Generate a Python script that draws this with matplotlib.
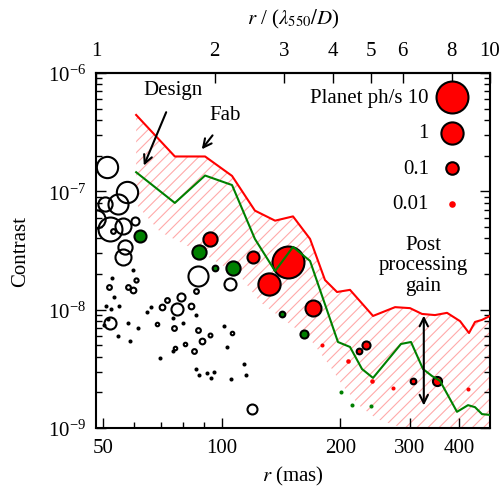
import numpy as np
import matplotlib.pyplot as plt
from matplotlib.ticker import NullFormatter, NullLocator

plt.rcParams['font.family'] = ['Liberation Serif', 'DejaVu Serif']
plt.rcParams['mathtext.fontset'] = 'stix'
plt.rcParams['font.size'] = 15
plt.rcParams['hatch.linewidth'] = 0.8

LAM_D = 48.0  # mas per lambda550/D

# contrast curves: separation (mas), contrast
curve_r = [60.7, 76.1, 90.8, 106.3, 121.5, 136.7, 151.8, 167.7, 183.0, 196.3, 211.8,
           242.3, 275.6, 300.8, 322.6, 348.0, 373.4, 402.9, 424.6, 439.7, 458.1, 480.0]
fab_c = [4.42e-7, 1.97e-7, 1.97e-7, 1.35e-7, 6.87e-8, 5.65e-8, 6.14e-8, 3.96e-8, 1.78e-8,
         1.41e-8, 1.47e-8, 8.85e-9, 1.05e-8, 1.03e-8, 9.2e-9, 9.0e-9, 9.4e-9, 8.0e-9,
         6.35e-9, 7.87e-9, 8.2e-9, 8.85e-9]

design_r = [60.7, 76.1, 90.8, 106.3, 121.5, 136.7, 151.8, 167.7, 197.4, 211.8, 227.2,
            242.3, 285.3, 302.5, 324.5, 342.0, 358.4, 395.8, 422.2, 439.7, 458.1, 480.0]
design_c = [1.45e-7, 7.98e-8, 1.36e-7, 1.13e-7, 3.96e-8, 2.12e-8, 3.39e-8, 2.58e-8,
            5.33e-9, 4.84e-9, 3.15e-9, 2.65e-9, 5.13e-9, 5.33e-9, 3.15e-9, 2.75e-9,
            2.5e-9, 1.37e-9, 1.56e-9, 1.5e-9, 1.31e-9, 1.29e-9]

# lower edge of the hatched band (after post processing)
pp_r = [60.7, 69.8, 78.4, 91.8, 111.4, 125.2, 167.7, 188.4, 203.3, 224.5, 248.0, 283.6, 480.0]
pp_c = [7.8e-8, 4.54e-8, 3.73e-8, 2.84e-8, 1.93e-8, 1.16e-8, 5.65e-9, 3.34e-9,
        2.26e-9, 1.53e-9, 1.19e-9, 1.02e-9, 8.1e-10]

# planets: separation (mas), contrast, planet ph/s
open_r = [51.1, 57.4, 54.7, 50.6, 48.1, 52.1, 56.3, 60.3, 52.9, 56.9, 56.3, 87.1, 105.0,
          51.8, 57.9, 59.6, 60.6, 52.1, 86.1, 78.9, 72.7, 70.6, 77.1, 83.6, 68.5, 75.7,
          87.1, 93.4, 89.2, 106.3, 80.7, 76.2, 85.1, 119.4]
open_c = [1.60e-7, 9.9e-8, 7.83e-8, 7.83e-8, 5.84e-8, 4.81e-8, 5.13e-8, 5.65e-8, 4.65e-8,
          3.39e-8, 2.77e-8, 1.93e-8, 1.65e-8, 1.56e-8, 1.56e-8, 1.47e-8, 1.78e-8, 7.72e-9,
          1.44e-8, 1.28e-8, 1.21e-8, 1.05e-8, 1.01e-8, 1.07e-8, 7.57e-9, 7.0e-9, 6.74e-9,
          6.11e-9, 5.44e-9, 6.35e-9, 5.13e-9, 4.75e-9, 4.48e-9, 1.45e-9]
open_ph = [0.8, 0.8, 0.6, 0.15, 0.4, 1.5, 0.23, 0.035, 0.016, 0.15, 0.23, 0.6, 0.09,
           0.016, 0.016, 0.02, 0.014, 0.09, 0.016, 0.035, 0.016, 0.02, 0.09, 0.02, 0.012,
           0.016, 0.016, 0.013, 0.02, 0.012, 0.012, 0.012, 0.016, 0.055]

dot_r = [59.6, 52.7, 53.3, 50.9, 52.4, 54.9, 51.5, 50.3, 54.6, 58.6, 57.9, 61.3, 66.2,
         64.7, 86.1, 75.3, 79.8, 101.4, 103.2, 75.3, 69.8, 86.1, 87.6, 91.8, 94.0, 95.6,
         105.6, 114.0, 115.3]
dot_c = [2.17e-8, 1.85e-8, 1.28e-8, 1.07e-8, 1.01e-8, 1.07e-8, 8.34e-9, 7.42e-9, 5.99e-9,
         5.44e-9, 7.72e-9, 7.0e-9, 1.05e-8, 9.56e-9, 9.02e-9, 8.51e-9, 7.72e-9, 7.28e-9,
         4.84e-9, 4.48e-9, 3.91e-9, 3.15e-9, 2.81e-9, 2.92e-9, 2.65e-9, 2.97e-9, 2.59e-9,
         3.47e-9, 2.81e-9]
dot_ph = [0.003] * len(dot_r)

green_r = [62.1, 87.6, 96.2, 106.9, 142.3, 161.9, 200.9, 214.2, 239.4]
green_c = [4.2e-8, 3.07e-8, 2.25e-8, 2.25e-8, 9.2e-9, 6.23e-9, 2.02e-9, 1.56e-9, 1.53e-9]
green_ph = [0.09, 0.15, 0.02, 0.15, 0.02, 0.035, 0.003, 0.003, 0.003]

red_r = [93.4, 120.1, 131.9, 147.4, 170.6, 232.6, 223.2, 306.0, 352.2,
         179.8, 209.4, 240.8, 272.3, 422.2]
red_c = [3.96e-8, 2.79e-8, 1.65e-8, 2.53e-8, 1.03e-8, 5.03e-9, 4.48e-9, 2.5e-9, 2.5e-9,
         5.03e-9, 3.68e-9, 2.5e-9, 2.18e-9, 2.14e-9]
red_ph = [0.15, 0.09, 1.0, 10.0, 0.23, 0.035, 0.02, 0.02, 0.045,
          0.003, 0.004, 0.004, 0.003, 0.003]

legend_ph = [10, 1, 0.1, 0.01]
legend_labels = ['Planet ph/s 10', '1', '0.1', '0.01']

bottom_ticks = [50, 100, 200, 300, 400]
top_ticks = [1, 2, 3, 4, 5, 6, 8, 10]


def marker_size(ph):
    if ph > 0.01:
        return 16 + 7 * np.log10(ph)
    return 4.75 * (ph / 0.01) ** 0.4


def draw_planets(ax, r, c, ph, face, dot, **kw):
    for ri, ci, p in zip(r, c, ph):
        if p > 0.01:
            ax.plot(ri, ci, 'o', ms=marker_size(p), mfc=face, mec='k', mew=1.5, zorder=2, **kw)
        else:
            ax.plot(ri, ci, 'o', ms=marker_size(p), mfc=dot, mec='none', zorder=2, **kw)


fig = plt.figure(figsize=(5.02, 4.89), dpi=100)
ax = fig.add_axes([0.1912, 0.1227, 0.7849, 0.7260])
ax.set_xscale('log')
ax.set_yscale('log')

# hatched band between fab curve and post-processed limit
poly_r = np.concatenate([curve_r, pp_r[::-1]])
poly_c = np.concatenate([fab_c, pp_c[::-1]])
ax.fill(poly_r, poly_c, facecolor='none', edgecolor='#ffaaaa', hatch='///', linewidth=0, zorder=1)

draw_planets(ax, open_r, open_c, open_ph, 'none', 'k')
draw_planets(ax, dot_r, dot_c, dot_ph, 'none', 'k')
draw_planets(ax, green_r, green_c, green_ph, 'green', 'green')
draw_planets(ax, red_r, red_c, red_ph, 'red', 'red')

ax.plot(curve_r, fab_c, color='red', lw=1.5, zorder=3)
ax.plot(design_r, design_c, color='green', lw=1.5, zorder=3)

# annotations
ax.text(75.1, 7.3e-7, 'Design', ha='center', va='center')
ax.annotate('', xy=(63.1, 1.57e-7), xytext=(72.8, 4.9e-7),
            arrowprops=dict(arrowstyle='->', lw=1.5, color='k', mutation_scale=15))
ax.text(102.3, 4.42e-7, 'Fab', ha='center', va='center')
ax.annotate('', xy=(88.2, 2.17e-7), xytext=(95.8, 3.1e-7),
            arrowprops=dict(arrowstyle='->', lw=1.5, color='k', mutation_scale=15))
ax.text(325, 2.39e-8, 'Post\nprocessing\ngain', ha='center', va='center', linespacing=1.1)
ax.annotate('', xy=(326, 1.55e-9), xytext=(326, 8.9e-9),
            arrowprops=dict(arrowstyle='<->', lw=1.5, color='k', mutation_scale=15,
                            shrinkA=0, shrinkB=0))

# legend for photon rate
leg_y = [0.932, 0.831, 0.732, 0.631]
for p, lab, yy in zip(legend_ph, legend_labels, leg_y):
    if p > 0.01:
        ax.plot(0.9036, yy, 'o', ms=marker_size(p), mfc='red', mec='k', mew=1.5,
                transform=ax.transAxes, clip_on=False, zorder=4)
    else:
        ax.plot(0.9036, yy, 'o', ms=marker_size(p), mfc='red', mec='none',
                transform=ax.transAxes, clip_on=False, zorder=4)
    ax.text(0.845, yy, lab, ha='right', va='center', transform=ax.transAxes)

ax.set_xlim(LAM_D, 10 * LAM_D)
ax.set_ylim(1e-9, 1e-6)
ax.set_xticks(bottom_ticks, labels=[str(t) for t in bottom_ticks])
ax.set_xticks([60, 70, 80, 90], minor=True)
ax.xaxis.set_minor_formatter(NullFormatter())

ax.set_xlabel(r'$r$ (mas)', labelpad=5)
ax.set_ylabel('Contrast', labelpad=13)

for s in ax.spines.values():
    s.set_linewidth(1.5)
ax.tick_params(which='both', direction='in', width=1, right=True, top=False)
ax.tick_params(which='major', length=7)
ax.tick_params(which='minor', length=4)
ax.tick_params(axis='x', pad=7)
ax.tick_params(axis='y', pad=7)

sec = ax.secondary_xaxis('top', functions=(lambda r: r / LAM_D, lambda l: l * LAM_D))
sec.set_ticks(top_ticks, labels=[str(t) for t in top_ticks])
sec.xaxis.set_minor_locator(NullLocator())
sec.tick_params(direction='in', length=7, width=1, pad=9)
sec.spines['top'].set_linewidth(1.5)
sec.set_xlabel(r'$r$ / ($\lambda_{550}/D$)', labelpad=13)

fig.savefig('out.png', dpi=100)
